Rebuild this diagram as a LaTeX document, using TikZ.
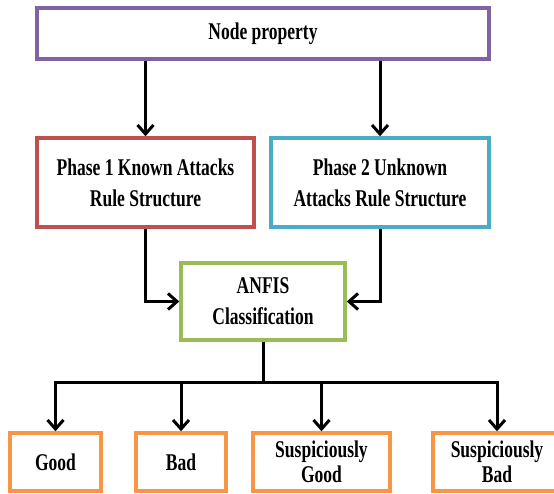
\documentclass[tikz,border=0pt]{standalone}
\usepackage{fontspec}
\newfontfamily\dfont[FakeStretch=0.73]{Liberation Serif}
\usetikzlibrary{arrows.meta}
\definecolor{cpurple}{HTML}{8064A2}
\definecolor{cred}{HTML}{C0504D}
\definecolor{cblue}{HTML}{4BACC6}
\definecolor{cgreen}{HTML}{9BBB59}
\definecolor{corange}{HTML}{F79646}
\tikzset{
  box/.style={draw, line width=3.5pt, fill=white, inner sep=0pt, align=center,
    font=\fontsize{24}{31}\dfont\bfseries},
  smallbox/.style={box, font=\fontsize{24}{25}\dfont\bfseries},
  arrline/.style={line width=3pt, line join=miter, -{Straight Barb[length=9pt,width=16pt,line width=3pt]}},
  plainline/.style={line width=3pt}
}
\begin{document}
\begin{tikzpicture}[x=1pt,y=1pt]
\useasboundingbox (0,0) rectangle (554,494);
\clip (0,0) rectangle (554,494);
\fill[white] (0,0) rectangle (554,494);
\node[box, draw=cpurple, minimum width=452pt, minimum height=51pt] (top) at (263,460.5) {Node property};
\node[box, draw=cred, minimum width=217pt, minimum height=89pt] (p1) at (145.5,311.5) {Phase 1 Known Attacks\\Rule Structure};
\node[box, draw=cblue, minimum width=218pt, minimum height=89pt] (p2) at (380,311.5) {Phase 2 Unknown\\Attacks Rule Structure};
\node[box, draw=cgreen, minimum width=164pt, minimum height=77pt] (anfis) at (263,192.5) {ANFIS\\Classification};
\node[box, draw=corange, minimum width=91pt, minimum height=58pt] (good) at (55.5,32) {Good};
\node[box, draw=corange, minimum width=90pt, minimum height=58pt] (bad) at (181,32) {Bad};
\node[smallbox, draw=corange, minimum width=137pt, minimum height=58pt] (sgood) at (321.5,32) {Suspiciously\\Good};
\node[smallbox, draw=corange, minimum width=128pt, minimum height=58pt] (sbad) at (497,32) {Suspiciously\\Bad};
\coordinate (bus) at (262,111);
\draw[arrline] (top.south -| p1.north) -- (p1.north);
\draw[arrline] (top.south -| p2.north) -- (p2.north);
\draw[arrline] (p1.south) |- (anfis.west);
\draw[arrline] (p2.south) |- (anfis.east);
\draw[arrline] (anfis.south) -- (anfis.south |- bus) -| (good.north);
\draw[arrline] (anfis.south |- bus) -| (sbad.north);
\draw[arrline] (bad.north |- bus) -- (bad.north);
\draw[arrline] (sgood.north |- bus) -- (sgood.north);
\end{tikzpicture}
\end{document}
